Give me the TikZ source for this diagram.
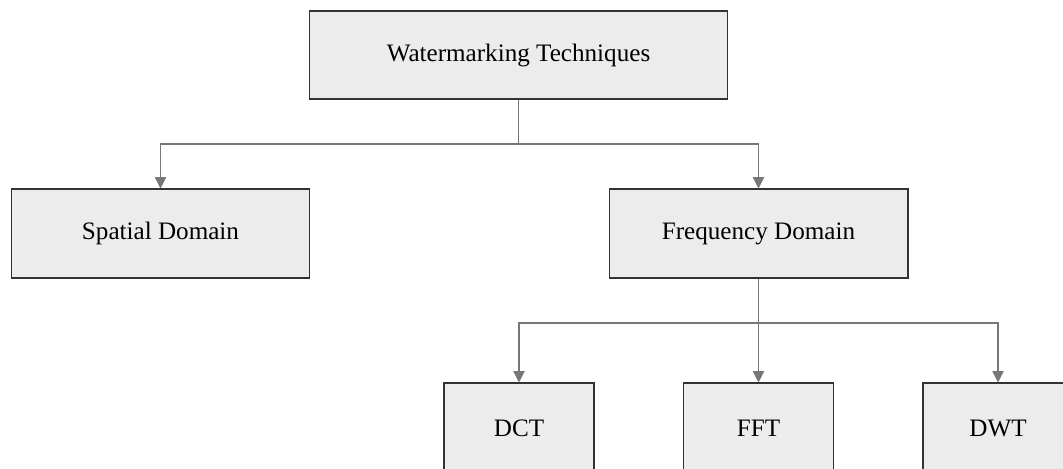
\documentclass[tikz,border=0pt]{standalone}
\usepackage{fontspec}
\setmainfont{Liberation Serif}
\usetikzlibrary{arrows.meta}

\definecolor{boxfill}{HTML}{ECECEC}
\definecolor{boxline}{HTML}{333333}
\definecolor{linkgray}{HTML}{777777}

\tikzset{
  block/.style={draw=boxline, fill=boxfill, line width=0.6pt, inner sep=0pt,
    font=\fontsize{14.3}{17}\selectfont},
  link/.style={draw=linkgray, line width=0.6pt,
    -{Triangle[width=6.5pt,length=6.5pt]}}
}

\begin{document}
\begin{tikzpicture}[x=0.02cm, y=-0.02cm]

\useasboundingbox (0,0) rectangle (1063,469);
\clip (0,0) rectangle (1063,469);

% top level
\node (tech) at (518.5,55) [block, minimum width=8.38cm, minimum height=1.76cm] {Watermarking Techniques};

% domains
\node (spatial) at (160.5,233.5) [block, minimum width=5.98cm, minimum height=1.78cm] {Spatial Domain};
\node (freq) at (758.5,233.5) [block, minimum width=5.98cm, minimum height=1.78cm] {Frequency Domain};

% transforms
\node (dct) at (519,428) [block, minimum width=3cm, minimum height=1.8cm] {DCT};
\node (fft) at (758.5,428) [block, minimum width=3cm, minimum height=1.8cm] {FFT};
\node (dwt) at (998,428) [block, minimum width=3cm, minimum height=1.8cm] {DWT};

\coordinate (split1) at (518.5,144);
\coordinate (split2) at (758.5,323);

\draw [draw=linkgray, line width=0.6pt] (tech.south) -- (split1);
\draw [link] (split1) -| (spatial.north);
\draw [link] (split1) -| (freq.north);

\draw [link] (freq.south) -- (fft.north);
\draw [link] (split2) -| (dct.north);
\draw [link] (split2) -| (dwt.north);

\end{tikzpicture}
\end{document}
